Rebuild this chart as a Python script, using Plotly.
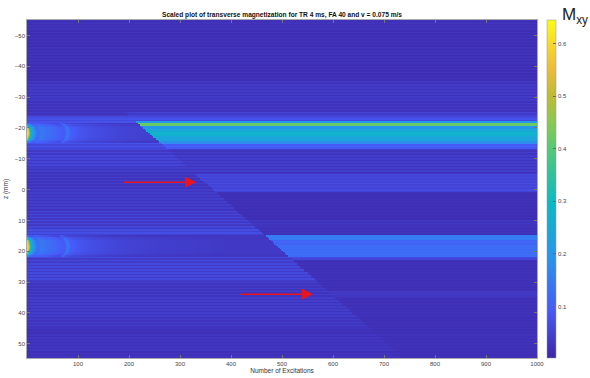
import numpy as np
import plotly.graph_objects as go

# ---------------- data ----------------
n_exc = np.arange(1, 1001, 2)                # number of excitations (columns)
z_mm = np.arange(-55, 55.01, 0.5)            # z positions in mm (rows)

# position of the flow front (excitation number where it reaches z)
front_n = [217, 467]
front_z = [-21.6, 14.9]

# steady state profile behind the front (right / upper part)
new_edges = [-55, -35, -25, -23.5, -22, -21.5, -20.5, -19.5, -18.5, -17, -15.5, -14.5,
             -13, -5, 0.8, 10, 12, 15, 16.5, 18, 22, 23, 33, 35, 55]
new_levels = [0.02, 0.03, 0.045, 0.07, 0.2, 0.42, 0.2, 0.25, 0.275, 0.24, 0.18, 0.1,
              0.035, 0.06, 0.018, 0.03, 0.022, 0.15, 0.11, 0.125, 0.06, 0.02, 0.035, 0.02]
new_stripes = [0.005, 0.008, 0.008, 0.008, 0.0, 0.0, 0.0, 0.0, 0.0, 0.008, 0.0, 0.01,
               0.008, 0.006, 0.003, 0.004, 0.004, 0.0, 0.004, 0.004, 0.004, 0.003, 0.003, 0.003]

# initial state profile ahead of the front (left / lower part); NaN = excited slice
old_edges = [-55, -35, -23.5, -21.6, -15.1, -13, -7, 7, 13, 14.9, 21.9, 30, 45, 55]
old_levels = [0.02, 0.03, 0.07, np.nan, 0.07, 0.045, 0.035, 0.045, 0.06, np.nan, 0.05, 0.035, 0.025]
old_stripes = [0.005, 0.008, 0.008, 0.0, 0.012, 0.012, 0.008, 0.012, 0.01, 0.0, 0.012, 0.008, 0.005]

# signal in the excited slices versus excitation number
slice_t = [0, 4, 7, 11, 16, 22, 30, 40, 52, 64, 74, 80, 86, 100, 130, 180, 250, 400, 1000]
slice_amp = [0.62, 0.56, 0.32, 0.24, 0.18, 0.12, 0.15, 0.13, 0.12, 0.1, 0.09, 0.15, 0.1,
             0.085, 0.07, 0.055, 0.045, 0.035, 0.035]
# across-slice shape (relative position 0..1) and time lag of the edges
band_pos = [0, 0.1, 0.25, 0.5, 0.75, 0.9, 1]
band_shape = [0.6, 0.85, 1.0, 1.0, 1.0, 0.85, 0.6]
band_lag = [14, 7, 2, 0, 2, 7, 14]

# colour scale limits and ticks
c_min, c_max = 0.002, 0.645
cbar_ticks = [0.1, 0.2, 0.3, 0.4, 0.5, 0.6]
x_ticks = [100, 200, 300, 400, 500, 600, 700, 800, 900, 1000]
y_ticks = [-50, -40, -30, -20, -10, 0, 10, 20, 30, 40, 50]

arrow_tail = [(187, -2.4), (416, 33.9)]
arrow_head = [(332, -2.4), (561, 33.9)]

# ---------------- build the image matrix ----------------
rows = np.arange(len(z_mm))
sign = np.where(rows % 2 == 0, 1.0, -1.0)


def seg_lookup(edges, vals):
    idx = np.clip(np.searchsorted(edges, z_mm, side="right") - 1, 0, len(vals) - 1)
    return np.asarray(vals, dtype=float)[idx]


new_prof = seg_lookup(new_edges, new_levels) + sign * seg_lookup(new_edges, new_stripes)
old_base = seg_lookup(old_edges, old_levels) + sign * seg_lookup(old_edges, old_stripes)

N, Zg = np.meshgrid(n_exc, z_mm)
old = np.repeat(old_base[:, None], len(n_exc), axis=1)
for (a, b) in [(-21.6, -15.1), (14.9, 21.9)]:
    inb = (z_mm >= a) & (z_mm < b)
    rel = (z_mm[inb] - a) / (b - a)
    shp = np.interp(rel, band_pos, band_shape)
    lag = np.interp(rel, band_pos, band_lag)
    teff = n_exc[None, :] + lag[:, None]
    amp = np.interp(teff, slice_t, slice_amp)
    old[inb, :] = np.maximum(amp * shp[:, None], 0.03)

slope = (front_z[1] - front_z[0]) / (front_n[1] - front_n[0])
zf = front_z[0] + slope * (N - front_n[0])
new = np.repeat(new_prof[:, None], len(n_exc), axis=1)
Zmat = np.where(Zg < zf, new, old)

parula = [
    [0.000, "#3e26a8"], [0.143, "#465bf9"], [0.302, "#2796eb"],
    [0.460, "#0bbac4"], [0.619, "#54c977"], [0.698, "#8ac94f"],
    [0.778, "#c0bc33"], [0.857, "#eebb39"], [0.937, "#f8dd28"],
    [1.000, "#f9fb15"],
]

fig = go.Figure()
fig.add_trace(go.Heatmap(
    x=n_exc, y=z_mm, z=Zmat, colorscale=parula, zmin=c_min, zmax=c_max,
    colorbar=dict(
        x=1.0196, xanchor="left", xpad=0, y=0.5, yanchor="middle", len=1.0,
        lenmode="fraction", thickness=9, thicknessmode="pixels", ypad=0,
        tickvals=cbar_ticks, ticks="inside", ticklen=3, tickcolor="#666",
        tickfont=dict(size=6, color="#444", family="Liberation Sans"),
        outlinewidth=0.5, outlinecolor="#999",
    ),
    hoverinfo="skip",
))

for (tx, ty), (hx, hy) in zip(arrow_tail, arrow_head):
    fig.add_annotation(x=hx, y=hy, ax=tx, ay=ty, xref="x", yref="y", axref="x", ayref="y",
                       showarrow=True, arrowhead=2, arrowsize=1.5, arrowwidth=1.5,
                       arrowcolor="#e8141e", text="")

fig.add_annotation(x=1.046, y=1.05, xref="paper", yref="paper", xanchor="left", yanchor="top",
                   text="M<sub>xy</sub>", showarrow=False,
                   font=dict(size=17, color="#222", family="Liberation Sans"))

fig.update_layout(
    width=590, height=378,
    margin=dict(l=27, r=53, t=20, b=20, autoexpand=False),
    paper_bgcolor="white", plot_bgcolor="white",
    title=dict(text="<b>Scaled plot of transverse magnetization for TR 4 ms, FA 40 and v = 0.075 m/s</b>",
               x=0.478, xanchor="center", y=0.96, yanchor="middle",
               font=dict(size=6.6, color="#111", family="Liberation Sans")),
    xaxis=dict(range=[0, 1000], tickvals=x_ticks, ticks="inside", ticklen=3, tickcolor="#777",
               showline=True, linecolor="#aaa", linewidth=0.6, mirror="ticks", showgrid=False,
               zeroline=False, tickfont=dict(size=6, color="#444", family="Liberation Sans"),
               title=dict(text="Number of Excitations", standoff=2,
                          font=dict(size=6.5, color="#333", family="Liberation Sans"))),
    yaxis=dict(range=[54.6, -55], tickvals=y_ticks, ticks="inside", ticklen=3, tickcolor="#777",
               showline=True, linecolor="#aaa", linewidth=0.6, mirror="ticks", showgrid=False,
               zeroline=False, tickfont=dict(size=6, color="#444", family="Liberation Sans"),
               title=dict(text="z (mm)", standoff=5,
                          font=dict(size=6.5, color="#333", family="Liberation Sans"))),
)

fig.write_html("out.html", config={"displayModeBar": False},
               post_script="document.body.style.margin='0px';document.body.style.overflow='hidden';")
